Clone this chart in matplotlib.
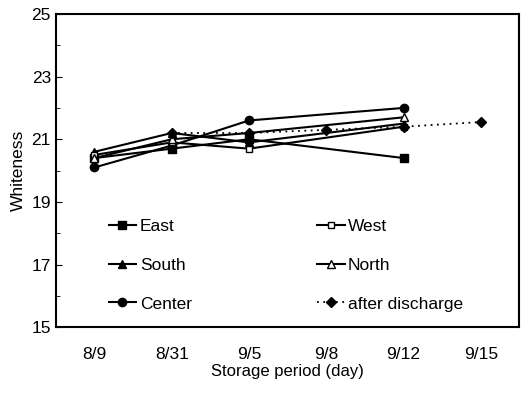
import numpy as np
import matplotlib
matplotlib.use("Agg")
from matplotlib import pyplot as plt

plt.rcParams['font.family'] = ['Liberation Sans', 'DejaVu Sans']

dates = ['8/9', '8/31', '9/5', '9/8', '9/12', '9/15']
nan = np.nan
east = [20.4, 20.7, 21.0, nan, 20.4, nan]
west = [20.5, 20.9, 20.7, nan, 21.4, nan]
south = [20.6, 21.2, 20.9, nan, 21.5, nan]
north = [20.4, 21.0, 21.2, nan, 21.7, nan]
center = [20.1, 20.8, 21.6, nan, 22.0, nan]
after = [nan, 21.2, 21.2, 21.3, 21.4, 21.55]
yticks = [15, 17, 19, 21, 23, 25]

fig = plt.figure(figsize=(5.22, 3.99), dpi=100)
ax = fig.add_axes([0.107, 0.18, 0.888, 0.785])
x = np.arange(len(dates))

def solid(vals, **kw):
    v = np.array(vals)
    m = ~np.isnan(v)
    return ax.plot(x[m], v[m], color='black', lw=1.5, **kw)[0]

h_e = solid(east, marker='s', ms=6, mfc='black', label='East')
h_s = solid(south, marker='^', ms=6, mfc='black', label='South')
h_c = solid(center, marker='o', ms=6, mfc='black', label='Center')
h_w = solid(west, marker='s', ms=5, mfc='white', mew=1, label='West')
h_n = solid(north, marker='^', ms=6, mfc='white', mew=1, label='North')
a = np.array(after)
m = ~np.isnan(a)
h_a = ax.plot(x[m], a[m], color='black', lw=1.3, ls=(0, (1, 2.5)),
              marker='D', ms=5, mfc='black', label='after discharge')[0]

ax.set_xlim(-0.5, 5.5)
ax.set_ylim(15, 25)
ax.set_xticks(x)
ax.set_xticklabels(dates)
ax.set_yticks(yticks)
ax.set_yticks([16, 18, 20, 22, 24], minor=True)
ax.tick_params(axis='y', which='both', direction='in', labelsize=12.5, length=4)
ax.tick_params(axis='y', which='minor', length=3)
ax.tick_params(axis='x', length=0, labelsize=12.5, pad=14)
for s in ax.spines.values():
    s.set_linewidth(1.5)

ax.set_xlabel('Storage period (day)', fontsize=12, labelpad=2)
ax.set_ylabel('Whiteness', fontsize=12.5, labelpad=4)

ax.legend(handles=[h_e, h_s, h_c, h_w, h_n, h_a], ncol=2, frameon=False,
          loc='lower left', bbox_to_anchor=(0.08, 0.0), fontsize=12.5,
          handlelength=1.6, handletextpad=0.2, columnspacing=7.2,
          labelspacing=1.35)

fig.savefig('out.png', dpi=100)
